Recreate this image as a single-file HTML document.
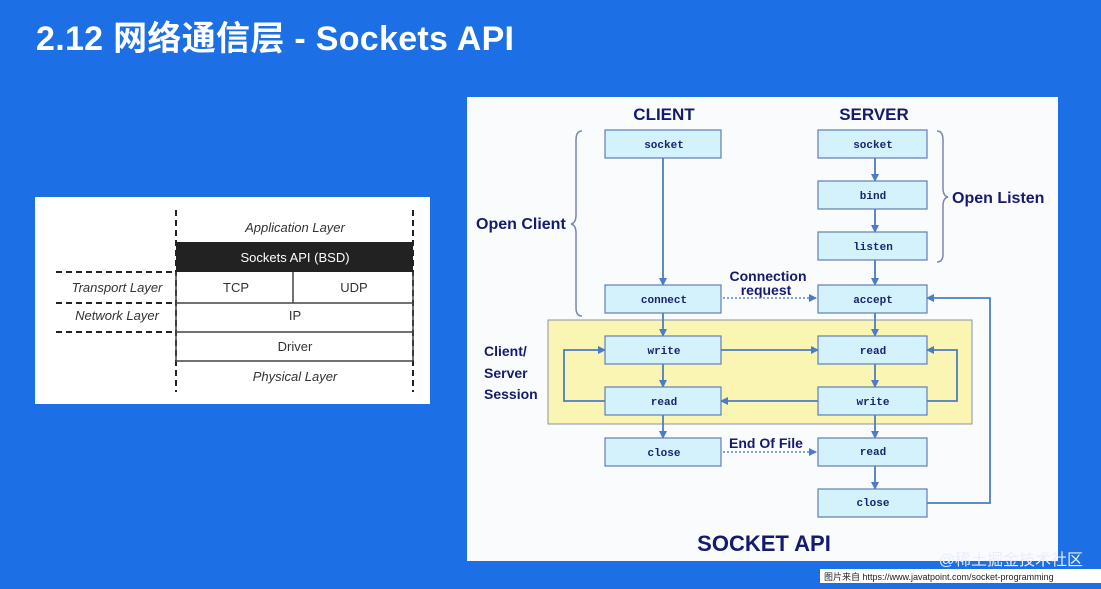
<!DOCTYPE html>
<html><head><meta charset="utf-8"><style>
html,body{margin:0;padding:0}
body{width:1101px;height:589px;background:#1c6fe4;position:relative;overflow:hidden;font-family:"Liberation Sans","Noto Sans CJK SC",sans-serif}
.t{position:absolute;left:36px;top:11px;color:#fff;font-size:34px;font-weight:bold;font-family:"Liberation Sans","Noto Sans CJK SC",sans-serif;letter-spacing:0.3px}
</style></head><body>
<div class="t">2.12 网络通信层 - Sockets API</div>
<svg width="1101" height="589" style="position:absolute;left:0;top:0">
<defs><marker id="a" markerWidth="8" markerHeight="8" refX="7" refY="4" orient="auto" markerUnits="userSpaceOnUse"><path d="M0,0 L8,4 L0,8 Z" fill="#4a7cc9"/></marker></defs>
<rect x="35" y="197" width="395" height="207" fill="#fff"/>
<g stroke="#222" stroke-width="2" stroke-dasharray="6,4" fill="none">
<line x1="176" y1="210" x2="176" y2="392"/><line x1="413" y1="210" x2="413" y2="392"/>
<line x1="56" y1="272" x2="176" y2="272"/><line x1="56" y1="303" x2="176" y2="303"/><line x1="56" y1="332" x2="176" y2="332"/>
</g>
<rect x="176" y="242" width="237" height="30" fill="#222"/>
<g stroke="#444" stroke-width="1.5" fill="none">
<line x1="176" y1="303" x2="413" y2="303"/><line x1="176" y1="332" x2="413" y2="332"/><line x1="176" y1="361" x2="413" y2="361"/>
<line x1="293" y1="272" x2="293" y2="303"/><line x1="176" y1="272" x2="176" y2="361"/><line x1="413" y1="272" x2="413" y2="361"/>
</g>
<g font-family="Liberation Sans,sans-serif" font-size="13" fill="#333" text-anchor="middle">
<text x="295" y="232" font-style="italic">Application Layer</text>
<text x="295" y="262" fill="#fff">Sockets API (BSD)</text>
<text x="236" y="292">TCP</text><text x="354" y="292">UDP</text>
<text x="295" y="320">IP</text><text x="295" y="351">Driver</text>
<text x="295" y="381" font-style="italic">Physical Layer</text>
<text x="117" y="292" font-style="italic">Transport Layer</text>
<text x="117" y="320" font-style="italic">Network Layer</text>
</g>
<rect x="467" y="97" width="591" height="464" fill="#fafbfd"/>
<rect x="548" y="320" width="424" height="104" fill="#fbf5b4" stroke="#8a94a8" stroke-width="1"/>
<g fill="#141a6e" font-family="Liberation Sans,sans-serif" font-weight="bold">
<text x="664" y="120" font-size="17" text-anchor="middle">CLIENT</text>
<text x="874" y="120" font-size="17" text-anchor="middle">SERVER</text>
<text x="476" y="229" font-size="16">Open Client</text>
<text x="952" y="203" font-size="16">Open Listen</text>
<text x="484" y="356" font-size="14">Client/</text>
<text x="484" y="378" font-size="14">Server</text>
<text x="484" y="399" font-size="14">Session</text>
<text x="768" y="281" font-size="14" text-anchor="middle">Connection</text>
<text x="766" y="295" font-size="14" text-anchor="middle">request</text>
<text x="766" y="448" font-size="14" text-anchor="middle">End Of File</text>
<text x="764" y="551" font-size="22" text-anchor="middle">SOCKET API</text>
</g>
<g fill="none" stroke="#7a86b0" stroke-width="1.5">
<path d="M582,131 Q576,131 576,140 L576,215 Q576,223 571,224 Q576,225 576,233 L576,308 Q576,316 582,316"/>
<path d="M937,131 Q943,131 943,140 L943,188 Q943,196 948,197 Q943,198 943,206 L943,254 Q943,262 937,262"/>
</g>
<g fill="none" stroke="#4a7cc9" stroke-width="1.8">
<line x1="663" y1="158" x2="663" y2="285" marker-end="url(#a)"/>
<line x1="875" y1="158" x2="875" y2="181" marker-end="url(#a)"/>
<line x1="875" y1="209" x2="875" y2="232" marker-end="url(#a)"/>
<line x1="875" y1="260" x2="875" y2="285" marker-end="url(#a)"/>
<line x1="663" y1="313" x2="663" y2="336" marker-end="url(#a)"/>
<line x1="875" y1="313" x2="875" y2="336" marker-end="url(#a)"/>
<line x1="663" y1="364" x2="663" y2="387" marker-end="url(#a)"/>
<line x1="875" y1="364" x2="875" y2="387" marker-end="url(#a)"/>
<line x1="663" y1="415" x2="663" y2="438" marker-end="url(#a)"/>
<line x1="875" y1="415" x2="875" y2="438" marker-end="url(#a)"/>
<line x1="875" y1="466" x2="875" y2="489" marker-end="url(#a)"/>
<line x1="721" y1="350" x2="818" y2="350" marker-end="url(#a)"/>
<line x1="818" y1="401" x2="721" y2="401" marker-end="url(#a)"/>
<path d="M605,401 L564,401 L564,350 L605,350" marker-end="url(#a)"/>
<path d="M927,401 L957,401 L957,350 L927,350" marker-end="url(#a)"/>
<path d="M927,503 L990,503 L990,298 L927,298" marker-end="url(#a)"/>
</g>
<g fill="none" stroke="#5a84c9" stroke-width="1.5" stroke-dasharray="2,2">
<line x1="723" y1="298" x2="816" y2="298" marker-end="url(#a)"/>
<line x1="723" y1="452" x2="816" y2="452" marker-end="url(#a)"/>
</g>
<g fill="#d3f2fb" stroke="#5f7fb4" stroke-width="1.2">
<rect x="605" y="130" width="116" height="28"/><rect x="818" y="130" width="109" height="28"/>
<rect x="818" y="181" width="109" height="28"/><rect x="818" y="232" width="109" height="28"/>
<rect x="605" y="285" width="116" height="28"/><rect x="818" y="285" width="109" height="28"/>
<rect x="605" y="336" width="116" height="28"/><rect x="818" y="336" width="109" height="28"/>
<rect x="605" y="387" width="116" height="28"/><rect x="818" y="387" width="109" height="28"/>
<rect x="605" y="438" width="116" height="28"/><rect x="818" y="438" width="109" height="28"/>
<rect x="818" y="489" width="109" height="28"/>
</g>
<g fill="#1a2470" font-family="Liberation Mono,monospace" font-weight="bold" font-size="11" text-anchor="middle">
<text x="664" y="148">socket</text><text x="873" y="148">socket</text>
<text x="873" y="199">bind</text><text x="873" y="250">listen</text>
<text x="664" y="303">connect</text><text x="873" y="303">accept</text>
<text x="664" y="354">write</text><text x="873" y="354">read</text>
<text x="664" y="405">read</text><text x="873" y="405">write</text>
<text x="664" y="456">close</text><text x="873" y="455">read</text>
<text x="873" y="506">close</text>
</g>
<text x="1083" y="565" font-size="16" fill="#e8eefc" text-anchor="end" font-family="Liberation Sans,Noto Sans CJK SC,sans-serif">@稀土掘金技术社区</text>
<rect x="820" y="569" width="281" height="14" fill="#fff"/>
<text x="824" y="580" font-size="9" fill="#222" font-family="Liberation Sans,Noto Sans CJK SC,sans-serif">图片来自 https://www.javatpoint.com/socket-programming</text>
</svg>
</body></html>
